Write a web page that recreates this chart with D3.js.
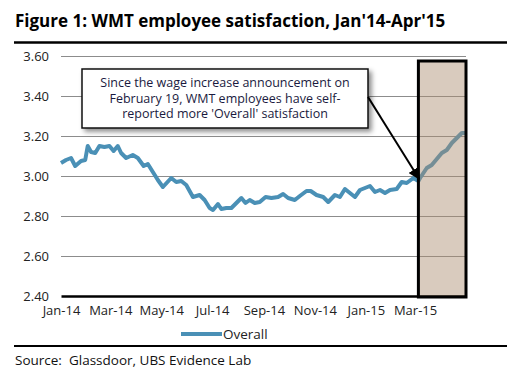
<!DOCTYPE html>
<html lang="en">
<head>
<meta charset="UTF-8">
<title>WMT employee satisfaction</title>
<script src="https://d3js.org/d3.v7.min.js"></script>
<style>
  body { margin: 0; background: #fff; }
  text { font-family: "Open Sans", "Noto Sans", sans-serif; }
</style>
</head>
<body>
<div id="chart"></div>
<script>
// data
const dates = ["2014-01-01","2014-01-07","2014-01-13","2014-01-18","2014-01-25","2014-01-30","2014-02-02","2014-02-06",
  "2014-02-11","2014-02-16","2014-02-22","2014-02-28","2014-03-05","2014-03-10","2014-03-14","2014-03-20","2014-03-28",
  "2014-04-03","2014-04-10","2014-04-15","2014-04-21","2014-04-27","2014-05-03","2014-05-13","2014-05-19","2014-05-25",
  "2014-05-31","2014-06-08","2014-06-16","2014-06-22","2014-06-28","2014-07-02","2014-07-08","2014-07-12","2014-07-18",
  "2014-07-24","2014-07-30","2014-08-05","2014-08-10","2014-08-15","2014-08-21","2014-08-27","2014-09-03","2014-09-10",
  "2014-09-18","2014-09-24","2014-09-30","2014-10-08","2014-10-14","2014-10-22","2014-10-27","2014-11-03","2014-11-11",
  "2014-11-17","2014-11-25","2014-12-01","2014-12-07","2014-12-13","2014-12-19","2014-12-25","2015-01-06","2015-01-12",
  "2015-01-18","2015-01-24","2015-01-30","2015-02-07","2015-02-13","2015-02-19","2015-02-27","2015-03-05","2015-03-07",
  "2015-03-15","2015-03-21","2015-03-27","2015-04-02","2015-04-08","2015-04-14","2015-04-20","2015-04-26","2015-04-30"];
const overall = [3.065,3.08,3.09,3.05,3.075,3.08,3.15,3.12,
  3.115,3.15,3.145,3.15,3.125,3.15,3.115,3.09,3.105,
  3.09,3.05,3.06,3.02,2.98,2.945,2.99,2.97,2.975,
  2.955,2.895,2.905,2.88,2.84,2.83,2.86,2.835,2.84,
  2.84,2.865,2.89,2.865,2.88,2.865,2.87,2.895,2.89,
  2.895,2.91,2.89,2.88,2.90,2.925,2.925,2.905,2.895,
  2.87,2.905,2.895,2.935,2.915,2.895,2.93,2.95,2.92,
  2.93,2.915,2.93,2.935,2.97,2.965,2.99,2.975,2.99,
  3.04,3.055,3.085,3.115,3.13,3.165,3.19,3.215,3.215];
const yTicks = [2.40, 2.60, 2.80, 3.00, 3.20, 3.40, 3.60];
const xTicks = ["2014-01-01","2014-03-01","2014-05-01","2014-07-01","2014-09-01","2014-11-01","2015-01-01","2015-03-01"];
const highlight = ["2015-03-05", "2015-05-01"];
const noteLines = ["Since the wage increase announcement on",
  "February 19, WMT employees have self-",
  "reported more 'Overall' satisfaction"];

const W = 513, H = 377;
const parse = d3.timeParse("%Y-%m-%d");
const data = dates.map((d, i) => ({ date: parse(d), value: overall[i] }));

const svg = d3.select("#chart").append("svg")
  .attr("width", W).attr("height", H);

const defs = svg.append("defs");
const shadow = defs.append("filter").attr("id", "shadow")
  .attr("x", "-10%").attr("y", "-20%").attr("width", "130%").attr("height", "150%");
shadow.append("feDropShadow").attr("dx", 3).attr("dy", 3).attr("stdDeviation", 2.5)
  .attr("flood-color", "#000").attr("flood-opacity", 0.45);
defs.append("marker").attr("id", "arrow")
  .attr("viewBox", "0 0 10 10").attr("refX", 9).attr("refY", 5)
  .attr("markerWidth", 6).attr("markerHeight", 6).attr("orient", "auto")
  .append("path").attr("d", "M0,0 L10,5 L0,10 z").attr("fill", "#000");

// title and rules
svg.append("text").attr("x", 15).attr("y", 27)
  .attr("font-size", 17).attr("font-weight", "bold").attr("fill", "#000")
  .text("Figure 1: WMT employee satisfaction, Jan'14-Apr'15");
svg.append("line").attr("x1", 14).attr("x2", 507).attr("y1", 42.5).attr("y2", 42.5)
  .attr("stroke", "#000").attr("stroke-width", 2.5);
svg.append("line").attr("x1", 14).attr("x2", 507).attr("y1", 346).attr("y2", 346)
  .attr("stroke", "#000").attr("stroke-width", 2);
svg.append("text").attr("x", 15).attr("y", 364.5).attr("font-size", 13.5).attr("fill", "#111")
  .attr("xml:space", "preserve")
  .text("Source:  Glassdoor, UBS Evidence Lab");

const x = d3.scaleTime().domain([parse("2014-01-01"), parse("2015-05-01")]).range([61, 466]);
const y = d3.scaleLinear().domain([2.4, 3.6]).range([296, 56]);

// grid
svg.append("g").selectAll("line").data(yTicks.filter(v => v > 2.4)).join("line")
  .attr("x1", 61).attr("x2", 466)
  .attr("y1", d => Math.round(y(d)) + 0.5).attr("y2", d => Math.round(y(d)) + 0.5)
  .attr("stroke", "#8c8c8c").attr("stroke-width", 1.2);

// y labels
const yAxis = svg.append("g").attr("transform", "translate(53,0)")
  .call(d3.axisLeft(y).tickValues(yTicks).tickFormat(d3.format(".2f")).tickSize(0).tickPadding(4));
yAxis.select(".domain").remove();
yAxis.selectAll("text").attr("font-size", 13).attr("fill", "#222")
  .style("font-family", "'Open Sans', sans-serif");

// x axis
const xAxis = svg.append("g").attr("transform", "translate(0,296)")
  .call(d3.axisBottom(x).tickValues(xTicks.map(parse)).tickFormat(d3.timeFormat("%b-%y"))
    .tickSize(0).tickPadding(10));
xAxis.select(".domain").attr("stroke", "#000").attr("stroke-width", 2.5);
xAxis.selectAll("text").attr("font-size", 13).attr("fill", "#222")
  .style("font-family", "'Open Sans', sans-serif");

// series
const line = d3.line().x(d => x(d.date)).y(d => y(d.value));
svg.append("path").datum(data).attr("d", line)
  .attr("fill", "none").attr("stroke", "#4a90b6").attr("stroke-width", 4)
  .attr("stroke-linejoin", "round");

// highlighted period
const hx0 = x(parse(highlight[0])), hx1 = x(parse(highlight[1]));
svg.append("rect").attr("x", hx0).attr("y", y(3.575)).attr("width", hx1 - hx0).attr("height", y(2.4) - y(3.575) + 1)
  .attr("fill", "rgba(170,140,110,0.45)").attr("stroke", "#000").attr("stroke-width", 3);

// annotation
const note = svg.append("g");
note.append("rect").attr("x", 82).attr("y", 69).attr("width", 286).attr("height", 59)
  .attr("fill", "#fff").attr("stroke", "#111").attr("stroke-width", 1.5).attr("filter", "url(#shadow)");
note.selectAll("text").data(noteLines).join("text")
  .attr("x", 225).attr("y", (d, i) => 87 + i * 15.5).attr("text-anchor", "middle")
  .attr("font-size", 12.5).attr("fill", "#1a1a40").text(d => d);
svg.append("line").attr("x1", 368).attr("y1", 97).attr("x2", x(parse("2015-03-06"))).attr("y2", y(2.985))
  .attr("stroke", "#000").attr("stroke-width", 2).attr("marker-end", "url(#arrow)");

// legend
svg.append("line").attr("x1", 181).attr("x2", 222).attr("y1", 334).attr("y2", 334)
  .attr("stroke", "#4a90b6").attr("stroke-width", 4);
svg.append("text").attr("x", 223).attr("y", 339).attr("font-size", 13.5).attr("fill", "#222").text("Overall");
</script>
</body>
</html>
